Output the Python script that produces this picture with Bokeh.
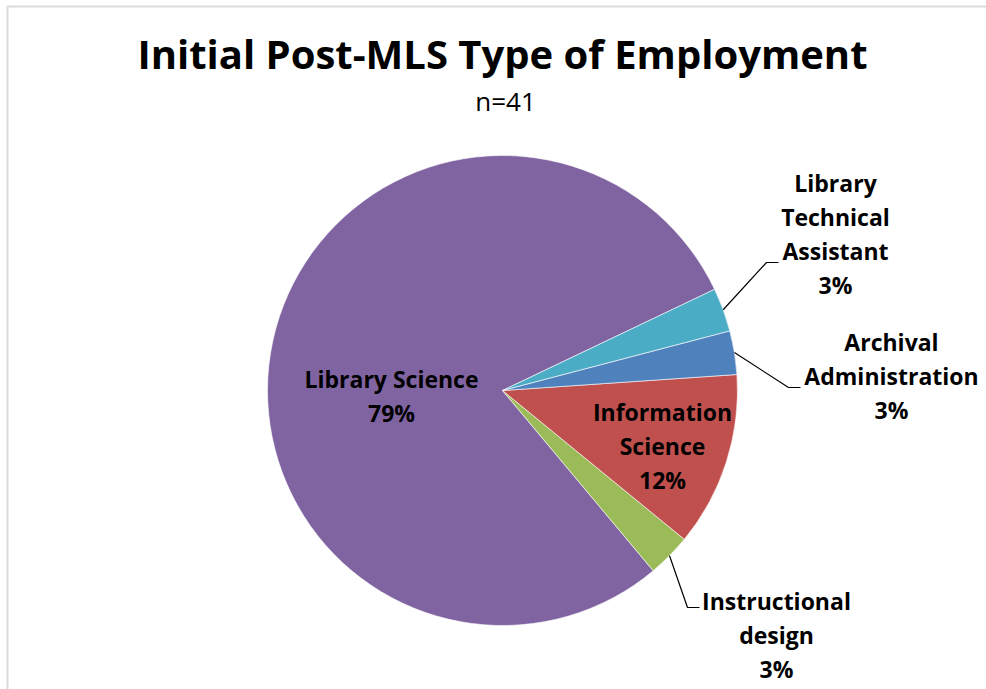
import math
from bokeh.plotting import figure
from bokeh.models import Range1d, ColumnDataSource, BoxAnnotation, Label
from bokeh.embed import file_html
from bokeh.resources import INLINE
from bokeh.core.properties import value

# ---------------- data ----------------
title = "Initial Post-MLS Type of Employment"
subtitle = "n=41"
categories = ["Library Science", "Instructional design", "Information Science",
              "Archival Administration", "Library Technical Assistant"]
percents = [79, 3, 12, 3, 3]
colors = ["#8064A2", "#9BBB59", "#C0504D", "#4F81BD", "#4BACC6"]
label_lines = [["Library Science"], ["Instructional", "design"], ["Information", "Science"],
               ["Archival", "Administration"], ["Library", "Technical", "Assistant"]]

# ---------------- layout (page pixels) ----------------
W, H = 986, 689
def X(px): return px
def Y(py): return H - py

cx, cy, R = X(502), Y(390), 235
start_deg = 25.5
FONT = "Open Sans"
LINE_STEP = 34
LABEL_SIZE = 23
TITLE_SIZE = 40
SUB_SIZE = 26
BASE_FIX = 0.44  # baseline correction, fraction of font size


def TY(py, size):
    return Y(py - BASE_FIX * size)

# label anchor: (center x, first baseline y) in page px
label_anchor = {
    "Library Science": (391, 389),
    "Instructional design": (776, 611),
    "Information Science": (662, 422),
    "Archival Administration": (891, 352),
    "Library Technical Assistant": (835, 193),
}
# leader elbow and end in page px
leader = {
    "Instructional design": ((687, 607), (699, 607)),
    "Archival Administration": ((788, 387), (800, 387)),
    "Library Technical Assistant": ((766, 262), (778, 262)),
}

p = figure(width=W, height=H, x_range=Range1d(0, W), y_range=Range1d(0, H),
           output_backend="svg", toolbar_location=None, min_border=0,
           background_fill_color="white", border_fill_color="white")
p.axis.visible = False
p.grid.visible = False
p.outline_line_color = None

# chart border (top and left visible)
p.add_layout(BoxAnnotation(left=X(7), right=W + 50, top=Y(6), bottom=-50,
                           fill_alpha=0, line_color="#868686", line_width=2))

total = sum(percents)
starts, ends, mids = [], [], []
a = math.radians(start_deg)
for v in percents:
    da = 2 * math.pi * v / total
    starts.append(a)
    ends.append(a + da)
    mids.append(a + da / 2)
    a += da

src = ColumnDataSource(dict(x=[cx] * len(percents), y=[cy] * len(percents),
                            start=starts, end=ends, color=colors))
p.wedge(x="x", y="y", radius=R, start_angle="start", end_angle="end",
        fill_color="color", line_color="white", line_width=0.6, source=src)

# labels
tx, ty, tt = [], [], []
lx, ly = [], []
for cat, pct, lines, mid in zip(categories, percents, label_lines, mids):
    ax, ay = label_anchor[cat]
    allines = lines + [f"{pct}%"]
    for i, s in enumerate(allines):
        tx.append(X(ax))
        ty.append(TY(ay + i * LINE_STEP, LABEL_SIZE))
        tt.append(s)
    if cat in leader:
        (ex, ey), (fx, fy) = leader[cat]
        sx = cx + R * math.cos(mid)
        sy = cy + R * math.sin(mid)
        lx.append([sx, X(ex), X(fx)])
        ly.append([sy, Y(ey), Y(fy)])

p.multi_line(xs=lx, ys=ly, line_color="black", line_width=1.2)
p.text(x=tx, y=ty, text=tt, text_font=value(FONT), text_font_style="bold",
       text_font_size=value(f"{LABEL_SIZE}px"), text_align="center",
       text_baseline="alphabetic", text_color="black")

p.add_layout(Label(x=X(502), y=TY(71, TITLE_SIZE), text=title, text_font=FONT,
                   text_font_style="bold", text_font_size=f"{TITLE_SIZE}px",
                   text_align="center", text_baseline="alphabetic", text_color="black"))
p.add_layout(Label(x=X(505), y=TY(112, SUB_SIZE), text=subtitle, text_font=FONT,
                   text_font_size=f"{SUB_SIZE}px", text_align="center",
                   text_baseline="alphabetic", text_color="black"))

open("out.html", "w").write(file_html(p, INLINE))
